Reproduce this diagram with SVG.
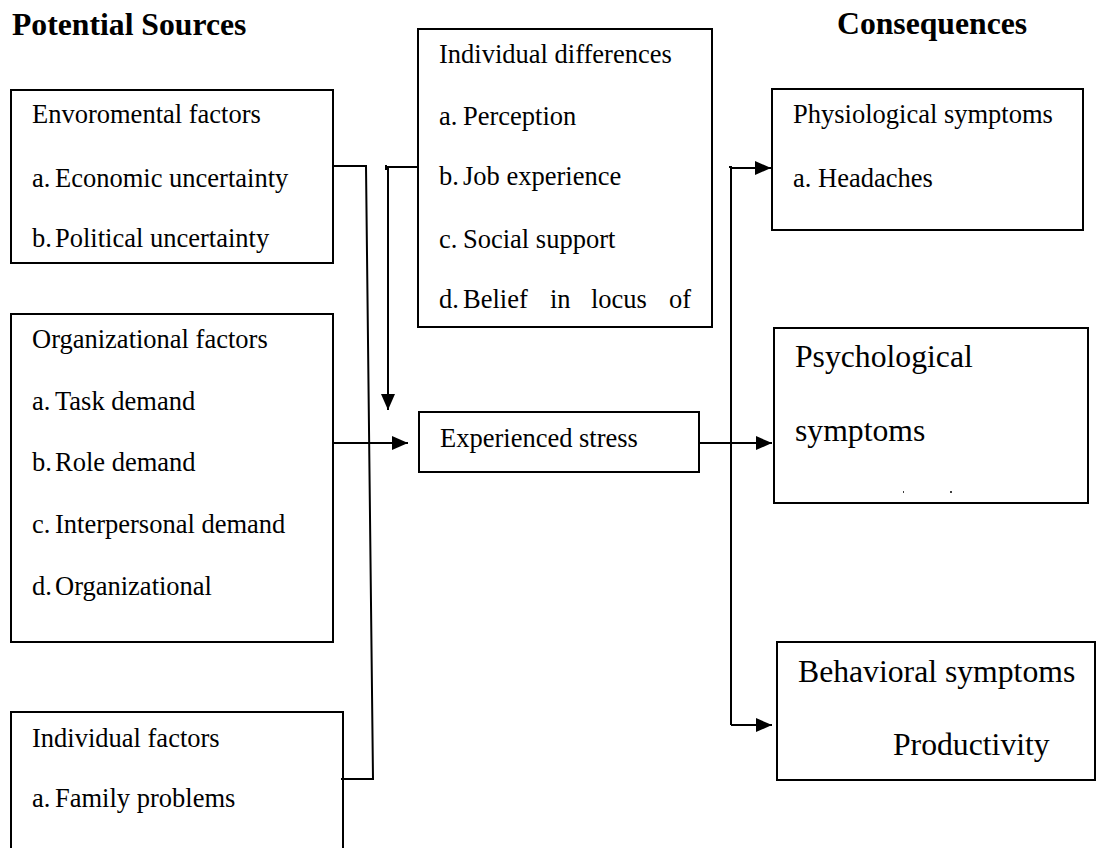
<svg xmlns="http://www.w3.org/2000/svg" width="1097" height="848" viewBox="0 0 1097 848">
<style>
.box{fill:#fff;stroke:#000;stroke-width:2}
.t{font-family:"Liberation Serif","Times New Roman",serif;font-size:26.5px;fill:#000}
.L{font-family:"Liberation Serif","Times New Roman",serif;font-size:31.7px;fill:#000}
.h{font-family:"Liberation Serif","Times New Roman",serif;font-size:31.7px;font-weight:bold;fill:#000}
.c{fill:none;stroke:#000;stroke-width:2}
</style>
<defs>
<marker id="ah" markerUnits="userSpaceOnUse" markerWidth="16" markerHeight="14" refX="16" refY="7" orient="auto">
<path d="M0,0 L16,7 L0,14 Z" fill="#000"/>
</marker>
</defs>
<rect width="1097" height="848" fill="#fff"/>
<text class="h" x="12" y="35">Potential Sources</text>
<text class="h" x="837" y="34">Consequences</text>

<g id="env">
<rect class="box" x="11" y="90" width="322" height="173"/>
<text class="t" x="32" y="123">Envoromental factors</text>
<text class="t" x="32" y="187">a.</text><text class="t" x="55" y="187">Economic uncertainty</text>
<text class="t" x="32" y="247">b.</text><text class="t" x="55" y="247">Political uncertainty</text>
</g>

<g id="org">
<rect class="box" x="11" y="314" width="322" height="328"/>
<text class="t" x="32" y="348">Organizational factors</text>
<text class="t" x="32" y="410">a.</text><text class="t" x="55" y="410">Task demand</text>
<text class="t" x="32" y="471">b.</text><text class="t" x="55" y="471">Role demand</text>
<text class="t" x="32" y="533">c.</text><text class="t" x="55" y="533">Interpersonal demand</text>
<text class="t" x="32" y="595">d.</text><text class="t" x="55" y="595">Organizational</text>
</g>

<g id="indfac">
<rect class="box" x="11" y="712" width="332" height="150"/>
<text class="t" x="32" y="747">Individual factors</text>
<text class="t" x="32" y="807">a.</text><text class="t" x="55" y="807">Family problems</text>
</g>

<g id="inddiff">
<rect class="box" x="418" y="29" width="294" height="298"/>
<text class="t" x="439" y="63">Individual differences</text>
<text class="t" x="439" y="125">a.</text><text class="t" x="463" y="125">Perception</text>
<text class="t" x="439" y="185">b.</text><text class="t" x="463" y="185">Job experience</text>
<text class="t" x="439" y="248">c.</text><text class="t" x="463" y="248">Social support</text>
<text class="t" x="439" y="308">d.</text><text class="t" y="308"><tspan x="463">Belief</tspan><tspan x="550">in</tspan><tspan x="591">locus</tspan><tspan x="669">of</tspan></text>
</g>

<g id="stress">
<rect class="box" x="419" y="412" width="280" height="60"/>
<text class="t" x="440" y="447">Experienced stress</text>
</g>

<g id="physio">
<rect class="box" x="772" y="89" width="311" height="141"/>
<text class="t" x="793" y="123">Physiological symptoms</text>
<text class="t" x="793" y="187">a. Headaches</text>
</g>

<g id="psych">
<rect class="box" x="774" y="328" width="314" height="175"/>
<text class="L" x="795" y="367">Psychological</text>
<text class="L" x="795" y="441">symptoms</text>
<line x1="903" y1="492" x2="904" y2="492" stroke="#000" stroke-width="1.5"/>
<line x1="950" y1="492" x2="952" y2="492" stroke="#000" stroke-width="1.5"/>
</g>

<g id="behav">
<rect class="box" x="777" y="642" width="318" height="138"/>
<text class="L" x="798" y="682">Behavioral symptoms</text>
<text class="L" x="893" y="755">Productivity</text>
</g>

<g id="connectors">
<path class="c" d="M333,166 H366 L373,779 H341"/>
<path class="c" d="M418,167 H386 M388,167 V410" marker-end="url(#ah)"/>
<line class="c" x1="386" y1="165" x2="386" y2="170"/>
<line class="c" x1="333" y1="443" x2="408" y2="443" marker-end="url(#ah)"/>
<line class="c" x1="699" y1="443" x2="772" y2="443" marker-end="url(#ah)"/>
<path class="c" d="M729,167 H731 V725"/>
<line class="c" x1="731" y1="168" x2="771" y2="168" marker-end="url(#ah)"/>
<line class="c" x1="731" y1="725" x2="772" y2="725" marker-end="url(#ah)"/>
</g>
</svg>
